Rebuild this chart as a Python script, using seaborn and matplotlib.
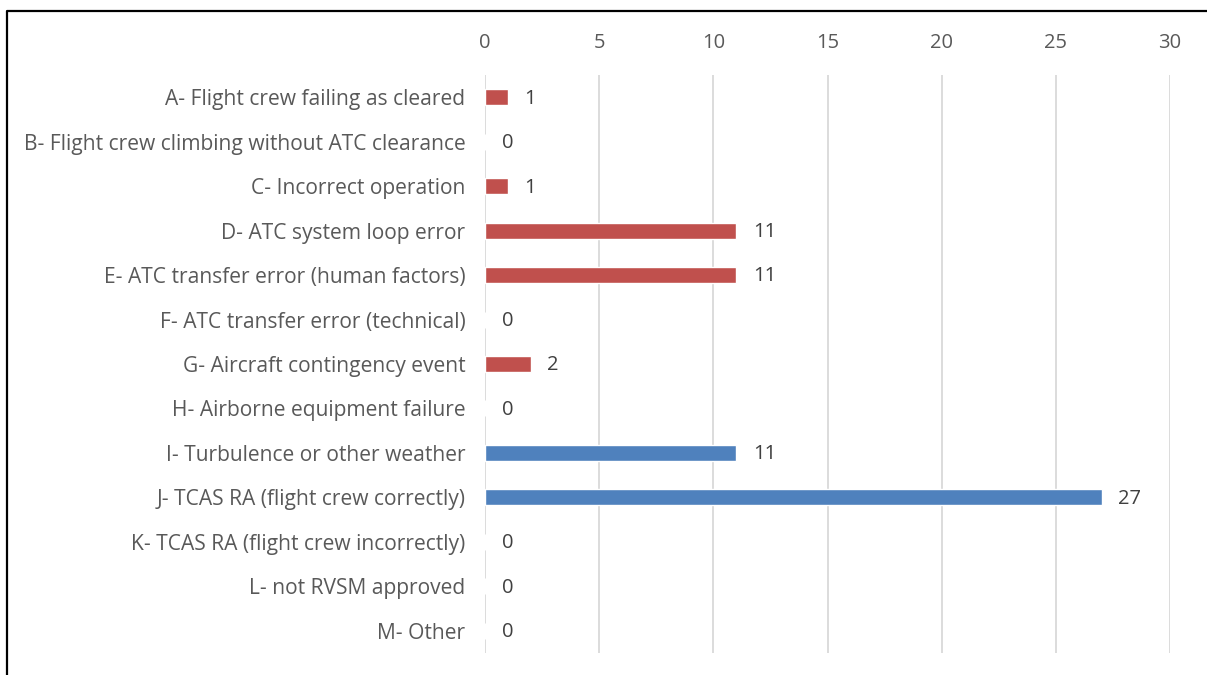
import matplotlib
matplotlib.use("Agg")
import matplotlib.pyplot as plt
from matplotlib.lines import Line2D
import seaborn as sns
import pandas as pd

categories = [
    "A- Flight crew failing as cleared",
    "B- Flight crew climbing without ATC clearance",
    "C- Incorrect operation",
    "D- ATC system loop error",
    "E- ATC transfer error (human factors)",
    "F- ATC transfer error (technical)",
    "G- Aircraft contingency event",
    "H- Airborne equipment failure",
    "I- Turbulence or other weather",
    "J- TCAS RA (flight crew correctly)",
    "K- TCAS RA (flight crew incorrectly)",
    "L- not RVSM approved",
    "M- Other",
]
counts = [1, 0, 1, 11, 11, 0, 2, 0, 11, 27, 0, 0, 0]
groups = ["A-H"] * 8 + ["I-M"] * 5
x_ticks = [0, 5, 10, 15, 20, 25, 30]

RED = "#C0504D"
BLUE = "#4F81BD"
TEXT = "#595959"
GRID = "#D9D9D9"

df = pd.DataFrame({"category": categories, "count": counts, "group": groups})

sns.set_theme(style="white")
plt.rcParams["font.family"] = ["Open Sans", "DejaVu Sans"]

W, H = 1207, 675
fig = plt.figure(figsize=(W / 100, H / 100), dpi=100)
ax = fig.add_axes([485 / W, 1 - 653 / H, (1170 - 485) / W, (653 - 75) / H])

sns.barplot(data=df, x="count", y="category", hue="group",
            palette={"A-H": RED, "I-M": BLUE}, dodge=False, width=0.36,
            orient="h", legend=False, ax=ax, saturation=1)

ax.set_xlim(0, 30)
ax.set_ylim(len(categories) - 0.5, -0.5)
ax.set_xticks(x_ticks)
ax.xaxis.tick_top()
ax.set_xlabel("")
ax.set_ylabel("")
for s in ax.spines.values():
    s.set_visible(False)
ax.grid(axis="x", color=GRID, linewidth=1.3)
ax.grid(axis="y", visible=False)
ax.set_axisbelow(True)
ax.tick_params(axis="x", length=0, pad=16, labelsize=14.5, colors=TEXT)
ax.tick_params(axis="y", length=0, pad=14, labelsize=15.1, colors=TEXT)

for i, v in enumerate(counts):
    ax.annotate(str(v), xy=(v, i), xytext=(12, -1), textcoords="offset points",
                ha="left", va="center", fontsize=14.5, color="#404040")

# frame along the top and left of the figure
fig.add_artist(Line2D([7 / W, 7 / W, 1.0], [0.0, 1 - 11 / H, 1 - 11 / H],
                      transform=fig.transFigure, color="black", linewidth=1.6))

fig.savefig("out.png", dpi=100)
